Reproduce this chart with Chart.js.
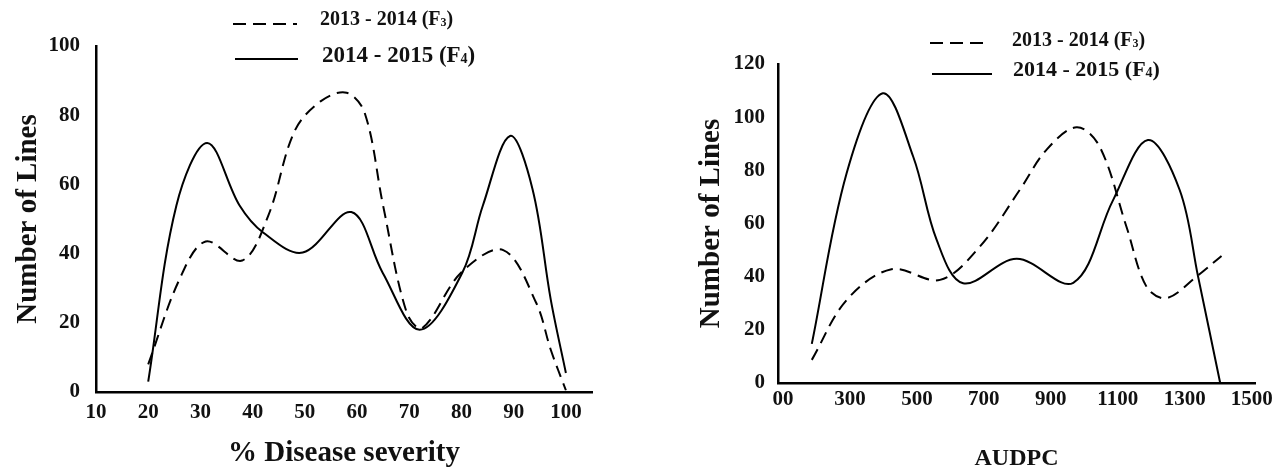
<!DOCTYPE html>
<html>
<head>
<meta charset="utf-8">
<script src="https://cdn.jsdelivr.net/npm/chart.js@4.4.1/dist/chart.umd.min.js"></script>
<style>
  html, body { margin: 0; padding: 0; background: #fff; }
  body { width: 1287px; height: 470px; position: relative; overflow: hidden; }
  .panel { position: absolute; top: 0; height: 470px; }
  #leftPanel { left: 0; width: 630px; }
  #rightPanel { left: 640px; width: 647px; }
</style>
</head>
<body>
<div class="panel" id="leftPanel"><canvas id="severityChart"></canvas></div>
<div class="panel" id="rightPanel"><canvas id="audpcChart"></canvas></div>
<script>
// values (x = position on axis, y = number of lines)

// season names + subscript of the generation
const seasonNames = ["2013 - 2014", "2014 - 2015"];
const seasonGen = ["3", "4"];

// left panel: % disease severity
const severityTicks = [10, 20, 30, 40, 50, 60, 70, 80, 90, 100];
const severityF3X = [20, 26, 31, 38, 43, 48, 53, 58, 61.5, 65, 69.5, 72.5, 80, 88, 94.3, 97.1, 100];
const severityF3Y = [8, 32.6, 43.5, 38, 51, 75.3, 84, 86.5, 80.5, 53.8, 23, 18.5, 34.6, 41, 25.8, 12.2, 0.5];
const severityF4X = [20, 25.4, 31.3, 37.5, 42, 49.6, 58.9, 64.9, 72, 80.2, 84.1, 89.3, 93.6, 97.1, 100];
const severityF4Y = [3, 53.9, 72, 53.9, 46.1, 40.3, 52, 34.5, 18, 34.6, 53.9, 74, 58.7, 26.7, 5.5];
const severityYTicks = [0, 20, 40, 60, 80, 100];

// right panel: AUDPC
const audpcTicks = [100, 300, 500, 700, 900, 1100, 1300, 1500];
const audpcTickLabels = ["00", "300", "500", "700", "900", "1100", "1300", "1500"];
const audpcF3X = [186, 290, 424, 569, 688, 807, 887, 977, 1046, 1126, 1186, 1245, 1335, 1410];
const audpcF3Y = [8.7, 31.2, 42.8, 38.8, 51.3, 72.6, 87.7, 96.2, 88.9, 58.8, 36.2, 31.9, 40, 47.8];
const audpcF4X = [186, 290, 398, 489, 559, 638, 798, 967, 1086, 1190, 1285, 1340, 1406];
const audpcF4Y = [14.7, 78.9, 109, 85.1, 53.8, 37.5, 46.7, 37.7, 68.8, 91.4, 72.6, 40, 0];
const audpcYTicks = [0, 20, 40, 60, 80, 100, 120];

const FAMILY = "'Times New Roman', 'Liberation Serif', serif";
Chart.defaults.font.family = FAMILY;
Chart.defaults.font.weight = "bold";
Chart.defaults.color = "#111";

function toPoints(xs, ys) {
  return xs.map((x, i) => ({ x: x, y: ys[i] }));
}

// legend drawn by hand: short line sample + label with subscript
const seasonLegend = {
  id: "seasonLegend",
  afterDraw(chart, args, opts) {
    const ctx = chart.ctx;
    ctx.save();
    opts.items.forEach((item, i) => {
      ctx.beginPath();
      ctx.lineWidth = 2;
      ctx.strokeStyle = "#000";
      ctx.setLineDash(i === 0 ? [13, 7] : []);
      ctx.moveTo(item.x1, item.y);
      ctx.lineTo(item.x2, item.y);
      ctx.stroke();
      ctx.setLineDash([]);

      ctx.fillStyle = "#111";
      ctx.textBaseline = "middle";
      ctx.textAlign = "left";
      const main = seasonNames[i] + " (F";
      ctx.font = `bold ${item.size}px ${FAMILY}`;
      ctx.fillText(main, item.tx, item.ty);
      let w = ctx.measureText(main).width;
      ctx.font = `bold ${Math.round(item.size * 0.62)}px ${FAMILY}`;
      ctx.fillText(seasonGen[i], item.tx + w, item.ty + item.size * 0.14);
      w += ctx.measureText(seasonGen[i]).width;
      ctx.font = `bold ${item.size}px ${FAMILY}`;
      ctx.fillText(")", item.tx + w, item.ty);
    });
    ctx.restore();
  }
};

function lineSet(label, pts, dashed) {
  return {
    label: label,
    data: pts,
    borderColor: "#000",
    borderWidth: 2,
    borderDash: dashed ? [12, 7] : [],
    pointRadius: 0,
    fill: false,
    tension: 0.35
  };
}

function makeChart(canvasId, cfg) {
  const ctx = document.getElementById(canvasId).getContext("2d");
  return new Chart(ctx, {
    type: "line",
    data: {
      datasets: [
        lineSet(seasonNames[0], cfg.f3, true),
        lineSet(seasonNames[1], cfg.f4, false)
      ]
    },
    options: {
      responsive: true,
      maintainAspectRatio: false,
      animation: false,
      layout: { padding: cfg.padding },
      plugins: {
        legend: { display: false },
        tooltip: { enabled: false },
        seasonLegend: { items: cfg.legend }
      },
      scales: {
        x: {
          type: "linear",
          min: cfg.xMin,
          max: cfg.xMax,
          afterBuildTicks: s => { s.ticks = cfg.xTicks.map(v => ({ value: v })); },
          afterFit: s => { s.height = cfg.xHeight; },
          grid: { display: false, drawTicks: false },
          border: { display: true, color: "#000", width: 2.5 },
          ticks: {
            padding: cfg.xTickPad,
            maxRotation: 0,
            autoSkip: false,
            font: { size: 21, weight: "bold" },
            callback: cfg.xLabel
          },
          title: {
            display: true,
            text: cfg.xTitle,
            font: { size: cfg.xTitleSize, weight: "bold", lineHeight: cfg.xTitleLH },
            padding: { top: 0, bottom: cfg.xTitlePad },
            color: "#111"
          }
        },
        y: {
          min: 0,
          max: cfg.yMax,
          afterBuildTicks: s => { s.ticks = cfg.yTicks.map(v => ({ value: v })); },
          afterFit: s => { s.width = cfg.yWidth; },
          grid: { display: false, drawTicks: false },
          border: { display: true, color: "#000", width: 2.5 },
          ticks: { padding: cfg.yTickPad, font: { size: 21, weight: "bold" } },
          title: {
            display: true,
            text: "Number of Lines",
            font: { size: 29, weight: "bold", lineHeight: 1 },
            padding: { top: cfg.yTitlePad, bottom: 0 },
            color: "#111"
          }
        }
      }
    },
    plugins: [seasonLegend]
  });
}

makeChart("severityChart", {
  f3: toPoints(severityF3X, severityF3Y),
  f4: toPoints(severityF4X, severityF4Y),
  padding: { left: 0, right: 38, top: 46, bottom: 0 },
  xMin: 10, xMax: 105, xTicks: severityTicks,
  xLabel: v => String(v),
  xHeight: 78, xTickPad: 8,
  xTitle: "% Disease severity", xTitleSize: 29, xTitleLH: 1, xTitlePad: 1.5,
  yMax: 100, yTicks: severityYTicks, yWidth: 96, yTickPad: 16, yTitlePad: 14,
  legend: [
    { x1: 233, x2: 297, y: 24, tx: 320, ty: 20, size: 20 },
    { x1: 235, x2: 298, y: 59, tx: 322, ty: 56, size: 23 }
  ]
});

makeChart("audpcChart", {
  f3: toPoints(audpcF3X, audpcF3Y),
  f4: toPoints(audpcF4X, audpcF4Y),
  padding: { left: 0, right: 32, top: 64, bottom: 0 },
  xMin: 85, xMax: 1510, xTicks: audpcTicks,
  xLabel: v => audpcTickLabels[audpcTicks.indexOf(v)] ?? String(v),
  xHeight: 87, xTickPad: 4,
  xTitle: "AUDPC", xTitleSize: 24, xTitleLH: 0.9, xTitlePad: 0,
  yMax: 120, yTicks: audpcYTicks, yWidth: 138, yTickPad: 13, yTitlePad: 57,
  legend: [
    { x1: 290, x2: 350, y: 43, tx: 372, ty: 41, size: 20 },
    { x1: 292, x2: 352, y: 74, tx: 373, ty: 70, size: 22 }
  ]
});
</script>
</body>
</html>
